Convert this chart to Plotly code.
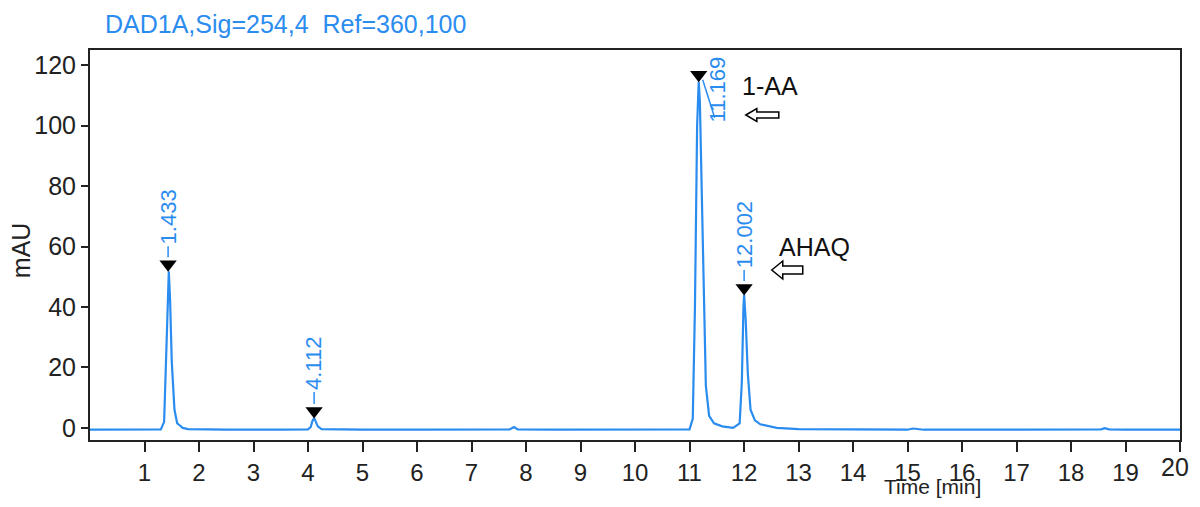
import plotly.graph_objects as go

# ---- data ----
time_min = [0.0, 0.5, 1.0, 1.3, 1.36, 1.40, 1.43, 1.446, 1.47, 1.50, 1.55, 1.60, 1.65, 1.70, 1.8,
            2.5, 3.5, 4.0, 4.05, 4.08, 4.112, 4.14, 4.18, 4.25, 5.0, 6.0, 7.0, 7.7, 7.78, 7.85,
            8.5, 9.5, 10.5, 11.0, 11.06, 11.10, 11.14, 11.169, 11.19, 11.22, 11.26, 11.30, 11.36,
            11.45, 11.6, 11.8, 11.92, 11.96, 11.99, 12.002, 12.03, 12.07, 12.12, 12.2, 12.3,
            12.45, 12.6, 13.0, 14.0, 15.0, 15.1, 15.3, 16.0, 17.0, 18.0, 18.55, 18.62, 18.7,
            19.0, 20.0]
signal_mau = [-0.6, -0.6, -0.5, -0.5, 2.0, 25.0, 49.0, 51.8, 42.0, 22.0, 6.0, 1.5, 0.8, 0.0, -0.4,
              -0.6, -0.6, -0.5, 0.3, 2.2, 3.3, 2.2, 0.5, -0.4, -0.6, -0.6, -0.6, -0.5, 0.3, -0.5,
              -0.6, -0.6, -0.6, -0.5, 3.0, 40.0, 100.0, 114.5, 108.0, 80.0, 40.0, 14.0, 4.0,
              1.5, 0.5, 0.0, 1.5, 15.0, 40.0, 44.0, 36.0, 18.0, 6.0, 2.5, 1.2,
              0.5, 0.0, -0.4, -0.6, -0.6, -0.2, -0.6, -0.6, -0.6, -0.6, -0.5, -0.1, -0.5,
              -0.6, -0.6]

peak_rt = [1.433, 4.112, 11.169, 12.002]
peak_height = [51.8, 3.3, 114.5, 44.0]
peak_labels = ["1.433", "4.112", "11.169", "12.002"]

compound_names = ["1-AA", "AHAQ"]

x_ticks = list(range(1, 21))
y_ticks = [0, 20, 40, 60, 80, 100, 120]

# ---- layout geometry (page carries an 8px body margin on each side) ----
OFF = 8
W, H = 1200 - 2 * OFF, 507 - 2 * OFF
PL, PR, PT, PB = 90, 1182, 50, 440          # plot area in page pixels
ML, MR, MT, MB = PL - OFF, W - (PR - OFF), PT - OFF, H - (PB - OFF)
PW, PH = PR - PL, PB - PT
XR = [0, 20]
YR = [-4, 125]
px_per_y = PH / (YR[1] - YR[0])
px_per_x = PW / (XR[1] - XR[0])


def fx(page_x):
    return (page_x - PL) / PW


def fy(page_y):
    return (PB - page_y) / PH


def dx(page_x):
    return XR[0] + (page_x - PL) / px_per_x


def dy(page_y):
    return YR[0] + (PB - page_y) / px_per_y


BLUE = "#2b8cf0"
FONT = "Liberation Sans, Arial, sans-serif"
TICKCOL = "#222222"

fig = go.Figure()
fig.add_trace(go.Scatter(x=time_min, y=signal_mau, mode="lines",
                         line=dict(color=BLUE, width=2.2), hoverinfo="skip", showlegend=False))

marker_off = 7.0 / px_per_y
fig.add_trace(go.Scatter(x=peak_rt, y=[h + marker_off for h in peak_height], mode="markers",
                         marker=dict(symbol="triangle-down", size=15, color="black"),
                         hoverinfo="skip", showlegend=False))

annotations = []
shapes = []
for rt, h, lab in zip(peak_rt, peak_height, peak_labels):
    if lab == "11.169":
        annotations.append(dict(x=rt, y=h, xref="x", yref="y", text=lab, textangle=-90,
                                showarrow=False, xshift=19, yshift=-8,
                                font=dict(family=FONT, size=22, color=BLUE)))
        shapes.append(dict(type="line", xref="x", yref="y",
                           x0=rt + 4 / px_per_x, y0=h + 2 / px_per_y,
                           x1=rt + 16 / px_per_x, y1=h - 36 / px_per_y,
                           line=dict(color=BLUE, width=1.5)))
    else:
        n = len(lab)
        annotations.append(dict(x=rt, y=h, xref="x", yref="y", text=lab, textangle=-90,
                                showarrow=True, arrowhead=0, arrowwidth=1.5, arrowcolor=BLUE,
                                standoff=14, ax=0, ay=-(25 + n * 5.8),
                                font=dict(family=FONT, size=22, color=BLUE)))

annotations.append(dict(x=dx(741), y=dy(86), xref="x", yref="y", text=compound_names[0],
                        showarrow=False, xanchor="left", yanchor="middle",
                        font=dict(family=FONT, size=25, color="#111111")))
annotations.append(dict(x=dx(778), y=dy(247), xref="x", yref="y", text=compound_names[1],
                        showarrow=False, xanchor="left", yanchor="middle",
                        font=dict(family=FONT, size=25, color="#111111")))

arrow1 = "M0,0 L11,6.5 L11,3 L33,3 L33,-3 L11,-3 L11,-6.5 Z"
arrow2 = "M0,0 L11,9 L11,4 L31,4 L31,-4 L11,-4 L11,-9 Z"
shapes.append(dict(type="path", xref="x", yref="y", xsizemode="pixel", ysizemode="pixel",
                   xanchor=dx(747), yanchor=dy(115), path=arrow1,
                   line=dict(color="black", width=1.5), fillcolor="white"))
shapes.append(dict(type="path", xref="x", yref="y", xsizemode="pixel", ysizemode="pixel",
                   xanchor=dx(773), yanchor=dy(270), path=arrow2,
                   line=dict(color="black", width=1.5), fillcolor="white"))

# last x tick label sits at the page edge: drawn as a text nudged inside the page
annotations.append(dict(x=x_ticks[-1], y=fy(451), xref="x", yref="paper", text=str(x_ticks[-1]),
                        showarrow=False, xanchor="center", yanchor="top", xshift=-5,
                        font=dict(family=FONT, size=25, color=TICKCOL)))

annotations.append(dict(x=fx(103), y=fy(24), xref="paper", yref="paper",
                        text="DAD1A,Sig=254,4  Ref=360,100", showarrow=False,
                        xanchor="left", yanchor="middle",
                        font=dict(family=FONT, size=25, color=BLUE)))
annotations.append(dict(x=fx(934), y=fy(486), xref="paper", yref="paper",
                        text="Time [min]", showarrow=False,
                        xanchor="center", yanchor="middle",
                        font=dict(family=FONT, size=21, color=TICKCOL)))
annotations.append(dict(x=fx(21), y=fy(250), xref="paper", yref="paper",
                        text="mAU", showarrow=False, textangle=-90,
                        xanchor="center", yanchor="middle",
                        font=dict(family=FONT, size=25, color=TICKCOL)))

fig.update_layout(
    width=W, height=H, margin=dict(l=ML, r=MR, t=MT, b=MB),
    paper_bgcolor="white", plot_bgcolor="white",
    annotations=annotations, shapes=shapes, showlegend=False,
    font=dict(family=FONT, size=25, color=TICKCOL),
)
fig.update_xaxes(range=XR, tickmode="array", tickvals=x_ticks,
                 ticktext=[str(t) for t in x_ticks[:-1]] + [""],
                 ticks="outside", ticklen=10, tickwidth=2, tickcolor=TICKCOL,
                 showline=True, linecolor=TICKCOL, linewidth=2, mirror=True,
                 showgrid=False, zeroline=False, tickfont=dict(size=24))
fig.update_yaxes(range=YR, tickmode="array", tickvals=y_ticks, ticktext=[str(t) for t in y_ticks],
                 ticks="outside", ticklen=7, tickwidth=2, tickcolor=TICKCOL,
                 showline=True, linecolor=TICKCOL, linewidth=2, mirror=True,
                 showgrid=False, zeroline=False, tickfont=dict(size=25))

fig.write_html("out.html", config={"displayModeBar": False})
